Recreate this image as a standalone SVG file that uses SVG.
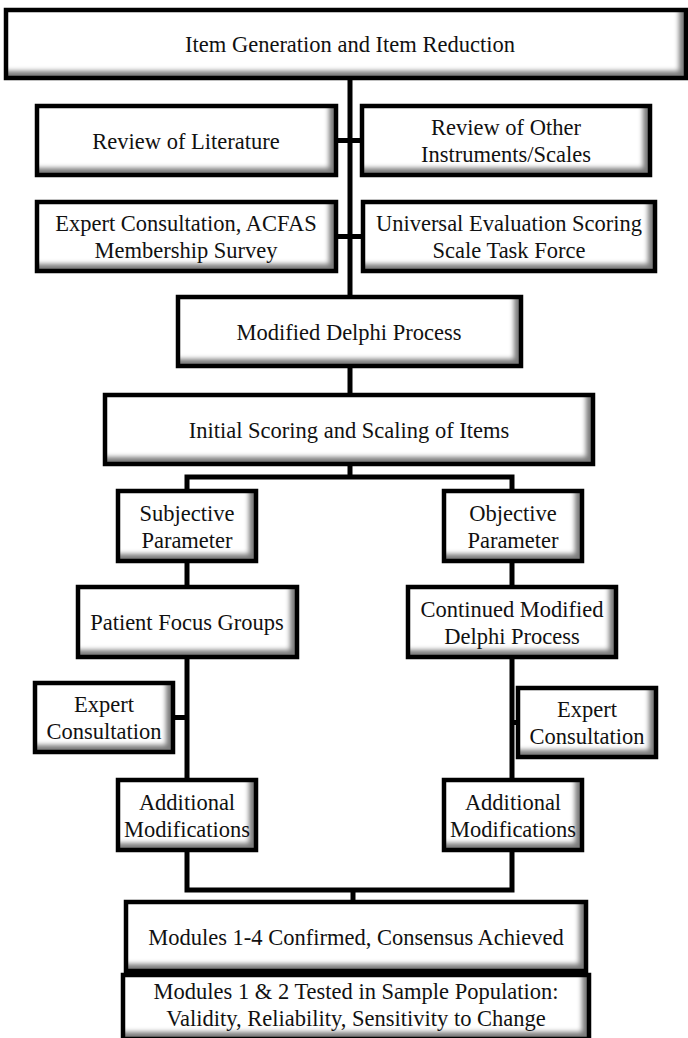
<svg xmlns="http://www.w3.org/2000/svg" width="688" height="1038" viewBox="0 0 688 1038">
<style>
.bg{fill:#fff;filter:url(#bevel)}
.bd{fill:none;stroke:#000;stroke-width:4.5}
text{font-family:"Liberation Serif","Times New Roman",serif;font-size:22.5px;fill:#111;text-anchor:middle}
#connectors path{fill:none;stroke:#000;stroke-width:5;stroke-linejoin:miter}
</style>
<defs>
<filter id="bevel" x="-10%" y="-20%" width="120%" height="140%" color-interpolation-filters="sRGB">
<feOffset in="SourceAlpha" dx="-7" dy="-7" result="o"/>
<feGaussianBlur in="o" stdDeviation="2.5" result="b"/>
<feFlood flood-color="#7a7a7a" result="f"/>
<feComposite in="f" in2="b" operator="out" result="s"/>
<feComposite in="s" in2="SourceAlpha" operator="in" result="inner"/>
<feMerge><feMergeNode in="SourceGraphic"/><feMergeNode in="inner"/></feMerge>
</filter>
</defs>
<rect width="688" height="1038" fill="#fff"/>
<g id="connectors">
<path d="M350 78V395"/>
<path d="M336 140.5H362"/>
<path d="M336 236.5H363"/>
<path d="M350 464V477"/>
<path d="M187 491V477H512V491"/>
<path d="M187 561V780"/>
<path d="M512 561V780"/>
<path d="M173 717.5H187"/>
<path d="M512 722.5H518"/>
<path d="M187 850V890H512V850"/>
<path d="M353 890V902"/>
</g>
<g id="n-top"><rect class="bg" x="6" y="10" width="680" height="68"/><rect class="bd" x="6" y="10" width="680" height="68"/><text x="350" y="52">Item Generation and Item Reduction</text></g>
<g id="n-revlit"><rect class="bg" x="37" y="106" width="299" height="69"/><rect class="bd" x="37" y="106" width="299" height="69"/><text x="186" y="148.5">Review of Literature</text></g>
<g id="n-revother"><rect class="bg" x="362" y="106" width="288" height="69"/><rect class="bd" x="362" y="106" width="288" height="69"/><text x="506" y="135">Review of Other</text><text x="506" y="162">Instruments/Scales</text></g>
<g id="n-expert-acfas"><rect class="bg" x="37" y="202" width="299" height="69"/><rect class="bd" x="37" y="202" width="299" height="69"/><text x="186" y="231">Expert Consultation, ACFAS</text><text x="186" y="258">Membership Survey</text></g>
<g id="n-universal"><rect class="bg" x="363" y="202" width="292" height="69"/><rect class="bd" x="363" y="202" width="292" height="69"/><text x="509" y="231">Universal Evaluation Scoring</text><text x="509" y="258">Scale Task Force</text></g>
<g id="n-delphi"><rect class="bg" x="178" y="297" width="343" height="69"/><rect class="bd" x="178" y="297" width="343" height="69"/><text x="349" y="339.5">Modified Delphi Process</text></g>
<g id="n-initial"><rect class="bg" x="105" y="395" width="488" height="69"/><rect class="bd" x="105" y="395" width="488" height="69"/><text x="349" y="437.5">Initial Scoring and Scaling of Items</text></g>
<g id="n-subjective"><rect class="bg" x="118" y="491" width="138" height="70"/><rect class="bd" x="118" y="491" width="138" height="70"/><text x="187" y="520.5">Subjective</text><text x="187" y="547.5">Parameter</text></g>
<g id="n-objective"><rect class="bg" x="444" y="491" width="138" height="70"/><rect class="bd" x="444" y="491" width="138" height="70"/><text x="513" y="520.5">Objective</text><text x="513" y="547.5">Parameter</text></g>
<g id="n-patient"><rect class="bg" x="78" y="587" width="219" height="70"/><rect class="bd" x="78" y="587" width="219" height="70"/><text x="187" y="630">Patient Focus Groups</text></g>
<g id="n-continued"><rect class="bg" x="408" y="587" width="208" height="70"/><rect class="bd" x="408" y="587" width="208" height="70"/><text x="512" y="616.5">Continued Modified</text><text x="512" y="643.5">Delphi Process</text></g>
<g id="n-expert-left"><rect class="bg" x="35" y="683" width="138" height="69"/><rect class="bd" x="35" y="683" width="138" height="69"/><text x="104" y="712">Expert</text><text x="104" y="739">Consultation</text></g>
<g id="n-expert-right"><rect class="bg" x="518" y="688" width="138" height="69"/><rect class="bd" x="518" y="688" width="138" height="69"/><text x="587" y="717">Expert</text><text x="587" y="744">Consultation</text></g>
<g id="n-add-left"><rect class="bg" x="118" y="780" width="138" height="70"/><rect class="bd" x="118" y="780" width="138" height="70"/><text x="187" y="809.5">Additional</text><text x="187" y="836.5">Modifications</text></g>
<g id="n-add-right"><rect class="bg" x="444" y="780" width="138" height="70"/><rect class="bd" x="444" y="780" width="138" height="70"/><text x="513" y="809.5">Additional</text><text x="513" y="836.5">Modifications</text></g>
<g id="n-modules14"><rect class="bg" x="126" y="902" width="460" height="69"/><rect class="bd" x="126" y="902" width="460" height="69"/><text x="356" y="944.5">Modules 1-4 Confirmed, Consensus Achieved</text></g>
<g id="n-modules12"><rect class="bg" x="123" y="975" width="466" height="64"/><rect class="bd" x="123" y="975" width="466" height="64"/><text x="356" y="998.5">Modules 1 &amp; 2 Tested in Sample Population:</text><text x="356" y="1026">Validity, Reliability, Sensitivity to Change</text></g>
</svg>
